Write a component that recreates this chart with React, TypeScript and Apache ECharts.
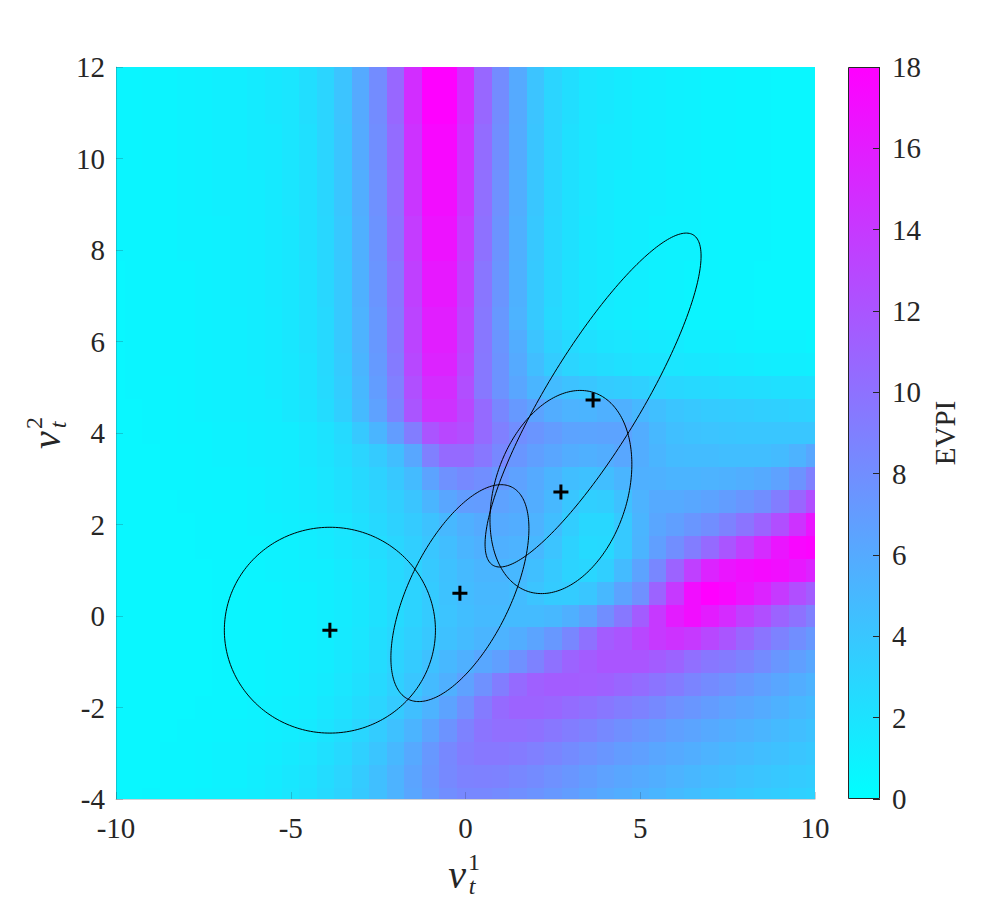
import React, { useEffect, useRef } from "react";
import * as echarts from "echarts";

const FONT = "'Liberation Serif', 'Times New Roman', serif";
const INK = "#262626";

// grid nodes of the EVPI field (cell centres)
const xNodes = [-10, -9.5, -9, -8.5, -8, -7.5, -7, -6.5, -6, -5.5, -5, -4.5, -4, -3.5, -3, -2.5, -2, -1.5, -1, -0.5,
  0, 0.5, 1, 1.5, 2, 2.5, 3, 3.5, 4, 4.5, 5, 5.5, 6, 6.5, 7, 7.5, 8, 8.5, 9, 9.5, 10];
const yNodes = [12, 11.5, 11, 10.5, 10, 9.5, 9, 8.5, 8, 7.5, 7, 6.5, 6, 5.5, 5, 4.5, 4, 3.5, 3, 2.5, 2, 1.5, 1, 0.5,
  0, -0.5, -1, -1.5, -2, -2.5, -3, -3.5, -4];

// EVPI values, one row per yNode (top to bottom), one value per xNode
const evpiRows: number[][] = [
  [0.7,0.7,0.8,0.8,0.9,1.0,1.1,1.2,1.4,1.6,1.8,2.3,3.0,4.2,6.0,8.1,10.7,14.8,17.9,17.9,14.8,10.7,8.1,6.0,4.2,3.0,2.3,1.8,1.6,1.4,1.2,1.1,1.0,0.9,0.8,0.8,0.7,0.7,0.6,0.6,0.6],
  [0.7,0.7,0.8,0.8,0.9,1.0,1.1,1.2,1.4,1.6,1.8,2.3,3.0,4.2,6.0,8.1,10.7,14.8,17.9,17.9,14.8,10.7,8.1,6.0,4.2,3.0,2.3,1.8,1.6,1.4,1.2,1.1,1.0,0.9,0.8,0.8,0.7,0.7,0.6,0.6,0.6],
  [0.7,0.7,0.8,0.8,0.9,1.0,1.1,1.2,1.4,1.6,1.8,2.3,3.0,4.2,6.0,8.1,10.7,14.8,17.9,17.9,14.8,10.7,8.1,6.0,4.2,3.0,2.3,1.8,1.6,1.4,1.2,1.1,1.0,0.9,0.8,0.8,0.7,0.7,0.6,0.6,0.6],
  [0.7,0.7,0.8,0.8,0.9,1.0,1.1,1.2,1.4,1.5,1.8,2.2,3.0,4.1,5.9,8.0,10.4,14.5,17.5,17.5,14.5,10.4,8.0,5.9,4.1,3.0,2.2,1.8,1.5,1.4,1.2,1.1,1.0,0.9,0.8,0.8,0.7,0.7,0.6,0.6,0.6],
  [0.7,0.7,0.8,0.8,0.9,1.0,1.1,1.2,1.4,1.5,1.8,2.2,3.0,4.1,5.9,8.0,10.4,14.5,17.5,17.5,14.5,10.4,8.0,5.9,4.1,3.0,2.2,1.8,1.5,1.4,1.2,1.1,1.0,0.9,0.8,0.8,0.7,0.7,0.6,0.6,0.6],
  [0.7,0.7,0.7,0.8,0.9,1.0,1.1,1.2,1.3,1.5,1.8,2.2,2.9,4.0,5.7,7.8,10.2,14.2,17.1,17.1,14.2,10.2,7.8,5.7,4.0,2.9,2.2,1.8,1.5,1.3,1.2,1.1,1.0,0.9,0.8,0.7,0.7,0.7,0.6,0.6,0.6],
  [0.7,0.7,0.7,0.8,0.9,1.0,1.1,1.2,1.3,1.5,1.8,2.2,2.9,4.0,5.7,7.8,10.2,14.2,17.1,17.1,14.2,10.2,7.8,5.7,4.0,2.9,2.2,1.8,1.5,1.3,1.2,1.1,1.0,0.9,0.8,0.7,0.7,0.7,0.6,0.6,0.6],
  [0.7,0.7,0.7,0.8,0.9,0.9,1.0,1.2,1.3,1.5,1.7,2.2,2.8,3.9,5.6,7.6,10.0,13.8,16.7,16.7,13.8,10.0,7.6,5.6,3.9,2.8,2.2,1.7,1.5,1.3,1.2,1.0,0.9,0.9,0.8,0.7,0.7,0.7,0.6,0.6,0.6],
  [0.7,0.7,0.7,0.8,0.9,0.9,1.0,1.2,1.3,1.5,1.7,2.2,2.8,3.9,5.6,7.6,10.0,13.8,16.7,16.7,13.8,10.0,7.6,5.6,3.9,2.8,2.2,1.7,1.5,1.3,1.2,1.0,0.9,0.9,0.8,0.7,0.7,0.7,0.6,0.6,0.6],
  [0.6,0.7,0.7,0.8,0.8,0.9,1.0,1.2,1.3,1.5,1.7,2.1,2.8,3.8,5.5,7.5,9.7,13.5,16.3,16.3,13.5,9.7,7.5,5.5,3.8,2.8,2.1,1.7,1.5,1.3,1.2,1.0,0.9,0.8,0.8,0.7,0.7,0.6,0.6,0.6,0.6],
  [0.6,0.7,0.7,0.8,0.8,0.9,1.0,1.2,1.3,1.5,1.7,2.1,2.8,3.8,5.5,7.5,9.7,13.5,16.3,16.3,13.5,9.7,7.5,5.5,3.8,2.8,2.1,1.7,1.5,1.3,1.2,1.0,0.9,0.8,0.8,0.7,0.7,0.6,0.6,0.6,0.6],
  [0.6,0.7,0.7,0.8,0.8,0.9,1.0,1.1,1.3,1.4,1.7,2.1,2.7,3.8,5.4,7.3,9.5,13.2,15.9,15.9,13.2,9.5,7.3,5.4,3.8,2.7,2.1,1.7,1.4,1.3,1.1,1.0,0.9,0.8,0.8,0.7,0.7,0.6,0.6,0.6,0.6],
  [0.6,0.7,0.7,0.8,0.8,0.9,1.0,1.1,1.3,1.4,1.7,2.1,2.7,3.8,5.4,7.3,9.5,13.2,15.9,15.9,13.2,9.6,7.5,5.8,4.2,3.2,2.6,2.2,1.9,1.8,1.6,1.5,1.4,1.2,1.2,1.1,1.0,0.9,0.9,0.9,0.8],
  [0.6,0.7,0.7,0.8,0.8,0.9,1.0,1.1,1.3,1.4,1.6,2.0,2.7,3.7,5.2,7.1,9.3,12.9,15.5,15.5,12.9,9.5,7.6,6.0,4.6,3.6,3.0,2.6,2.4,2.2,2.0,1.9,1.8,1.7,1.6,1.5,1.4,1.3,1.2,1.2,1.1],
  [0.6,0.7,0.7,0.7,0.8,0.9,1.0,1.1,1.2,1.4,1.6,2.0,2.6,3.5,5.0,6.9,9.0,12.4,14.9,14.9,12.5,9.5,7.6,6.3,5.2,4.7,4.3,4.0,3.7,3.5,3.3,3.0,2.8,2.7,2.6,2.5,2.4,2.3,2.2,2.2,2.1],
  [0.6,0.6,0.7,0.7,0.8,0.9,1.0,1.1,1.2,1.3,1.6,1.9,2.5,3.4,4.9,6.6,8.7,12.0,14.5,14.5,13.0,10.5,8.5,7.2,6.5,5.8,5.4,5.3,5.6,5.6,5.0,4.5,4.1,3.9,3.7,3.6,3.5,3.4,3.3,3.2,3.1],
  [0.6,0.6,0.7,0.7,0.8,0.8,0.9,1.0,1.1,1.2,1.3,1.6,2.0,2.6,3.8,5.2,6.9,9.2,12.1,13.0,12.5,10.5,9.0,8.0,7.5,7.0,6.5,6.4,6.5,6.5,5.8,5.0,4.5,4.3,4.2,4.1,4.0,4.0,4.0,4.0,4.0],
  [0.6,0.6,0.6,0.7,0.7,0.8,0.9,1.0,1.1,1.2,1.3,1.6,1.9,2.4,3.0,3.7,4.6,6.2,9.0,10.5,10.5,9.6,8.4,7.4,6.8,6.3,5.8,5.6,5.8,6.2,5.8,5.2,4.8,4.7,4.7,4.6,4.6,4.6,4.8,5.4,6.2],
  [0.6,0.6,0.6,0.7,0.7,0.8,0.8,0.9,1.0,1.1,1.3,1.5,1.8,2.2,2.7,3.2,3.9,4.8,6.5,7.8,8.3,8.0,7.3,6.6,6.0,5.3,4.6,4.4,4.6,5.2,5.6,5.5,5.3,5.3,5.4,5.5,5.7,6.0,6.6,7.6,9.0],
  [0.6,0.6,0.6,0.6,0.7,0.7,0.8,0.8,0.9,1.1,1.2,1.4,1.6,2.0,2.4,2.9,3.4,4.1,5.2,6.3,6.9,7.0,6.6,6.2,5.8,5.0,4.0,3.4,3.5,4.4,5.4,6.0,6.0,6.2,6.5,6.9,7.4,8.0,9.2,10.8,12.5],
  [0.6,0.6,0.6,0.6,0.6,0.7,0.7,0.8,0.9,1.0,1.1,1.3,1.5,1.8,2.2,2.7,3.2,3.7,4.3,5.0,5.6,6.0,6.0,5.8,5.4,4.6,3.5,2.8,2.8,3.8,5.2,6.3,6.8,7.4,8.0,8.8,9.8,11.0,12.5,14.5,16.5],
  [0.6,0.6,0.6,0.6,0.6,0.7,0.7,0.8,0.8,0.9,1.0,1.2,1.4,1.7,2.0,2.4,2.9,3.4,4.0,4.6,5.2,5.6,5.6,5.4,5.0,4.2,3.2,2.6,2.7,3.8,5.3,6.8,8.0,9.2,10.5,12.0,13.5,15.0,16.5,17.5,17.8],
  [0.6,0.6,0.6,0.6,0.6,0.6,0.7,0.7,0.8,0.9,1.0,1.1,1.2,1.5,1.8,2.2,2.7,3.2,3.8,4.4,4.9,5.2,5.2,5.0,4.5,3.8,3.1,2.9,3.4,4.8,6.5,8.5,11.0,13.5,15.5,16.5,17.0,17.3,17.0,16.3,15.5],
  [0.6,0.6,0.6,0.6,0.6,0.6,0.7,0.7,0.8,0.8,0.9,1.0,1.2,1.4,1.7,2.1,2.6,3.1,3.7,4.3,4.7,5.0,5.0,4.7,4.2,3.7,3.6,4.0,5.0,6.5,7.8,11.0,14.0,17.0,18.0,17.5,16.5,15.5,14.0,12.5,11.5],
  [0.6,0.6,0.6,0.6,0.6,0.6,0.7,0.7,0.8,0.8,0.9,1.0,1.2,1.4,1.7,2.1,2.6,3.1,3.7,4.2,4.6,4.9,4.9,4.8,4.8,5.0,5.6,6.5,8.0,9.5,11.5,14.0,16.0,17.0,16.0,15.0,13.5,12.5,11.0,10.0,9.0],
  [0.6,0.6,0.6,0.6,0.6,0.6,0.7,0.7,0.8,0.8,0.9,1.0,1.2,1.5,1.8,2.3,2.8,3.3,3.9,4.4,4.8,5.2,5.4,5.8,6.4,7.3,8.5,10.0,11.5,12.0,13.0,14.0,14.5,14.0,13.0,12.0,10.8,9.8,8.8,8.0,7.3],
  [0.6,0.6,0.6,0.6,0.6,0.6,0.7,0.7,0.8,0.9,1.0,1.1,1.3,1.6,2.0,2.5,3.1,3.7,4.4,5.0,5.6,6.2,6.8,7.8,8.8,10.0,11.0,11.5,12.0,12.0,12.0,11.5,11.0,10.2,9.6,9.3,8.8,8.2,7.4,6.8,6.2],
  [0.6,0.6,0.6,0.6,0.6,0.6,0.7,0.7,0.8,0.9,1.0,1.2,1.4,1.8,2.2,2.7,3.3,4.0,4.8,5.6,6.6,7.8,9.2,10.5,11.2,11.5,11.5,11.4,11.2,10.8,10.4,9.8,9.3,8.7,8.2,7.8,7.3,6.8,6.3,5.8,5.4],
  [0.6,0.6,0.6,0.6,0.6,0.7,0.7,0.8,0.9,1.0,1.1,1.3,1.6,2.0,2.5,3.0,3.7,4.5,5.4,6.5,7.8,9.3,10.5,11.0,11.0,10.8,10.4,10.0,9.6,9.2,8.8,8.3,7.8,7.4,7.0,6.6,6.3,5.9,5.5,5.1,4.8],
  [0.6,0.6,0.6,0.6,0.7,0.7,0.8,0.9,1.0,1.1,1.3,1.5,1.9,2.3,2.9,3.6,4.4,5.3,6.4,7.6,8.8,9.8,10.2,10.2,10.0,9.6,9.2,8.8,8.3,7.9,7.5,7.1,6.7,6.4,6.1,5.8,5.5,5.2,4.9,4.6,4.3],
  [0.6,0.6,0.6,0.7,0.7,0.8,0.9,1.0,1.1,1.3,1.5,1.8,2.2,2.7,3.3,4.1,5.0,6.1,7.3,8.4,9.2,9.5,9.5,9.3,9.0,8.6,8.2,7.8,7.4,7.0,6.7,6.3,6.0,5.7,5.4,5.1,4.9,4.6,4.4,4.1,3.9],
  [0.6,0.6,0.6,0.7,0.7,0.8,0.9,1.0,1.2,1.4,1.7,2.0,2.5,3.0,3.7,4.5,5.4,6.4,7.4,8.3,8.8,8.9,8.8,8.5,8.2,7.8,7.4,7.0,6.6,6.3,6.0,5.7,5.4,5.1,4.8,4.6,4.3,4.1,3.9,3.7,3.5],
  [0.6,0.6,0.7,0.7,0.8,0.9,1.0,1.1,1.3,1.5,1.8,2.1,2.6,3.1,3.8,4.5,5.4,6.3,7.2,8.0,8.4,8.4,8.2,7.9,7.6,7.3,6.9,6.5,6.1,5.8,5.5,5.2,4.9,4.6,4.3,4.1,3.9,3.7,3.5,3.3,3.2],
];

// ellipses: centre and shape matrix entries (data units)
const ellipseCx = [-3.88, -0.16, 3.65, 2.73];
const ellipseCy = [-0.31, 0.50, 4.72, 2.71];
const ellipseSxx = [9.12, 3.90, 9.55, 4.12];
const ellipseSxy = [0.0, 2.79, 9.73, 1.23];
const ellipseSyy = [5.06, 5.62, 13.32, 4.93];

const X_MIN = -10, X_MAX = 10, X_STEP = 5;
const Y_MIN = -4, Y_MAX = 12, Y_STEP = 2;
const EVPI_MIN = 0, EVPI_MAX = 18, EVPI_STEP = 2;
const HALF_CELL = 0.25;

const PLUS = "path://M4,0H6V4H10V6H6V10H4V6H0V4H4Z";

function labelGroup(x: number, y: number, rotation: number, sup: string) {
  const base = { fill: INK, align: "center", verticalAlign: "middle", textAlign: "center", textVerticalAlign: "middle" };
  return {
    type: "group",
    x,
    y,
    rotation,
    z: 100,
    children: [
      { type: "text", x: -7, y: 0, style: { ...base, text: "ν", font: `italic 40px ${FONT}` } },
      { type: "text", x: 10, y: -12, style: { ...base, text: sup, font: `24px ${FONT}` } },
      { type: "text", x: 8, y: 12, style: { ...base, text: "t", font: `italic 24px ${FONT}` } },
    ],
  };
}

export default function App() {
  const ref = useRef<HTMLDivElement>(null);
  useEffect(() => {
    if (!ref.current) return;
    const chart = echarts.init(ref.current, undefined, { renderer: "svg" });

    const cells: number[][] = [];
    evpiRows.forEach((row, r) => row.forEach((v, c) => cells.push([xNodes[c], yNodes[r], v])));
    const ellipses = ellipseCx.map((cx, i) => [cx, ellipseCy[i], ellipseSxx[i], ellipseSxy[i], ellipseSyy[i]]);
    const centres = ellipseCx.map((cx, i) => [cx, ellipseCy[i]]);

    const faint = "rgba(40,40,60,0.22)";
    const option: any = {
      animation: false,
      backgroundColor: "#ffffff",
      grid: [
        { left: 116, top: 67, width: 699, height: 732, containLabel: false },
        { left: 848, top: 67, width: 32, height: 732, containLabel: false },
      ],
      xAxis: [
        {
          gridIndex: 0, type: "value", min: X_MIN, max: X_MAX, interval: X_STEP, z: 5,
          axisLine: { show: true, onZero: false, lineStyle: { color: faint, width: 1 } },
          axisTick: { show: true, inside: true, length: 7, lineStyle: { color: faint } },
          axisLabel: { fontSize: 29, fontFamily: FONT, color: INK, margin: 14 },
          splitLine: { show: false },
        },
        { gridIndex: 1, type: "category", data: [""], show: false, boundaryGap: true },
      ],
      yAxis: [
        {
          gridIndex: 0, type: "value", min: Y_MIN, max: Y_MAX, interval: Y_STEP, z: 5,
          axisLine: { show: true, onZero: false, lineStyle: { color: faint, width: 1 } },
          axisTick: { show: true, inside: true, length: 7, lineStyle: { color: faint } },
          axisLabel: { fontSize: 29, fontFamily: FONT, color: INK, margin: 11 },
          splitLine: { show: false },
        },
        {
          gridIndex: 1, type: "value", min: EVPI_MIN, max: EVPI_MAX, interval: EVPI_STEP, position: "right", z: 5,
          axisLine: { show: false },
          axisTick: { show: true, inside: true, length: 7, lineStyle: { color: INK, width: 1 } },
          axisLabel: { fontSize: 29, fontFamily: FONT, color: INK, margin: 12 },
          splitLine: { show: false },
          name: "EVPI", nameLocation: "middle", nameRotate: 90, nameGap: 50,
          nameTextStyle: { fontSize: 29, fontFamily: FONT, color: INK },
        },
      ],
      visualMap: {
        type: "continuous", show: false, min: EVPI_MIN, max: EVPI_MAX, dimension: 2, seriesIndex: 0,
        inRange: { color: ["#00ffff", "#ff00ff"] },
      },
      series: [
        {
          type: "custom", xAxisIndex: 0, yAxisIndex: 0, data: cells, encode: { x: 0, y: 1 }, silent: true,
          renderItem: (params: any, api: any) => {
            const x = api.value(0), y = api.value(1);
            const x0 = Math.max(X_MIN, x - HALF_CELL), x1 = Math.min(X_MAX, x + HALF_CELL);
            const y0 = Math.max(Y_MIN, y - HALF_CELL), y1 = Math.min(Y_MAX, y + HALF_CELL);
            const a = api.coord([x0, y1]);
            const b = api.coord([x1, y0]);
            const l = Math.round(a[0]), t = Math.round(a[1]), r = Math.round(b[0]), btm = Math.round(b[1]);
            return { type: "rect", shape: { x: l, y: t, width: r - l, height: btm - t }, style: { fill: api.visual("color") } };
          },
          z: 1,
        },
        {
          type: "custom", xAxisIndex: 0, yAxisIndex: 0, data: ellipses, encode: { x: 0, y: 1 }, silent: true, z: 6,
          renderItem: (params: any, api: any) => {
            const cx = api.value(0), cy = api.value(1), sxx = api.value(2), sxy = api.value(3), syy = api.value(4);
            const l11 = Math.sqrt(sxx), l21 = sxy / l11, l22 = Math.sqrt(Math.max(syy - l21 * l21, 0));
            const pts: number[][] = [];
            for (let i = 0; i <= 240; i++) {
              const th = (i / 240) * Math.PI * 2;
              const u = Math.cos(th), v = Math.sin(th);
              pts.push(api.coord([cx + l11 * u, cy + l21 * u + l22 * v]));
            }
            return { type: "polyline", shape: { points: pts }, style: { stroke: "#000000", lineWidth: 1, fill: "none" } };
          },
        },
        {
          type: "scatter", xAxisIndex: 0, yAxisIndex: 0, data: centres, symbol: PLUS, symbolSize: 15, z: 7,
          itemStyle: { color: "#000000", opacity: 1 }, silent: true,
        },
        {
          type: "bar", xAxisIndex: 1, yAxisIndex: 1, data: [EVPI_MAX], barWidth: "100%", barCategoryGap: "0%", silent: true, z: 2,
          itemStyle: {
            color: new echarts.graphic.LinearGradient(0, 1, 0, 0, [
              { offset: 0, color: "#00ffff" },
              { offset: 1, color: "#ff00ff" },
            ]),
            borderColor: INK,
            borderWidth: 1,
          },
        },
      ],
      graphic: [labelGroup(464, 874, 0, "1"), labelGroup(46, 433, Math.PI / 2, "2")],
    };
    chart.setOption(option);
    return () => chart.dispose();
  }, []);
  return (
    <div
      ref={ref}
      style={{ position: "fixed", left: 0, top: 0, width: 1000, height: 900, background: "#ffffff" }}
    />
  );
}
